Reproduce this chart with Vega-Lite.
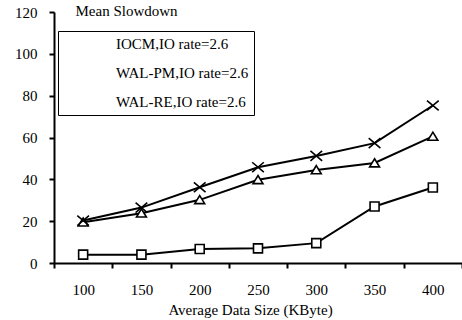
{
  "$schema": "https://vega.github.io/schema/vega-lite/v6.json",
  "autosize": {"type": "none"},
  "width": 408,
  "height": 251,
  "padding": {"left": 54, "top": 12, "right": 0, "bottom": 57},
  "background": "white",
  "config": {
    "font": "Liberation Serif",
    "view": {"stroke": null},
    "axis": {
      "domainColor": "black", "domainWidth": 2, "tickColor": "black", "tickWidth": 2, "tickSize": 5,
      "labelColor": "black", "labelFontSize": 15, "labelFont": "Liberation Serif",
      "titleColor": "black", "titleFontSize": 15, "titleFontWeight": "normal", "titleFont": "Liberation Serif",
      "grid": false
    },
    "legend": {"labelFont": "Liberation Serif"}
  },
  "data": {
    "values": [
      {"x": "100", "series": "IOCM,IO rate=2.6", "value": 19.5},
      {"x": "150", "series": "IOCM,IO rate=2.6", "value": 23.8},
      {"x": "200", "series": "IOCM,IO rate=2.6", "value": 30.2},
      {"x": "250", "series": "IOCM,IO rate=2.6", "value": 39.8},
      {"x": "300", "series": "IOCM,IO rate=2.6", "value": 44.5},
      {"x": "350", "series": "IOCM,IO rate=2.6", "value": 47.8},
      {"x": "400", "series": "IOCM,IO rate=2.6", "value": 60.5},
      {"x": "100", "series": "WAL-PM,IO rate=2.6", "value": 4.0},
      {"x": "150", "series": "WAL-PM,IO rate=2.6", "value": 4.0},
      {"x": "200", "series": "WAL-PM,IO rate=2.6", "value": 6.7},
      {"x": "250", "series": "WAL-PM,IO rate=2.6", "value": 7.0},
      {"x": "300", "series": "WAL-PM,IO rate=2.6", "value": 9.5},
      {"x": "350", "series": "WAL-PM,IO rate=2.6", "value": 27.0},
      {"x": "400", "series": "WAL-PM,IO rate=2.6", "value": 36.1},
      {"x": "100", "series": "WAL-RE,IO rate=2.6", "value": 20.3},
      {"x": "150", "series": "WAL-RE,IO rate=2.6", "value": 26.5},
      {"x": "200", "series": "WAL-RE,IO rate=2.6", "value": 36.2},
      {"x": "250", "series": "WAL-RE,IO rate=2.6", "value": 45.8},
      {"x": "300", "series": "WAL-RE,IO rate=2.6", "value": 51.2},
      {"x": "350", "series": "WAL-RE,IO rate=2.6", "value": 57.3},
      {"x": "400", "series": "WAL-RE,IO rate=2.6", "value": 75.3}
    ]
  },
  "encoding": {
    "x": {
      "field": "x", "type": "ordinal", "sort": null,
      "scale": {"type": "band", "paddingInner": 0, "paddingOuter": 0},
      "axis": {
        "title": "Average Data Size (KByte)", "labelAngle": 0, "tickBand": "extent",
        "labelPadding": 14, "titleX": 196, "titleY": 51, "titleBaseline": "alphabetic", "titleAlign": "center"
      }
    },
    "y": {
      "field": "value", "type": "quantitative",
      "scale": {"domain": [0, 120], "nice": false},
      "axis": {
        "values": [0, 20, 40, 60, 80, 100, 120], "labelPadding": 12,
        "title": "Mean Slowdown", "titleAngle": 0, "titleAlign": "left", "titleBaseline": "alphabetic",
        "titleX": 21, "titleY": 3
      }
    }
  },
  "layer": [
    {
      "mark": {"type": "line", "color": "black", "strokeWidth": 2},
      "encoding": {"detail": {"field": "series"}}
    },
    {
      "mark": {"type": "point", "filled": true, "fill": "white", "stroke": "black", "strokeWidth": 1.6, "size": 81, "opacity": 1},
      "encoding": {
        "shape": {
          "field": "series", "type": "nominal",
          "scale": {
            "domain": ["IOCM,IO rate=2.6", "WAL-PM,IO rate=2.6", "WAL-RE,IO rate=2.6"],
            "range": ["M0,-0.95L1.1,0.85L-1.1,0.85Z", "M-1,-1H1V1H-1Z", "M-1.3,-1.1L1.3,1.1M-1.3,1.1L1.3,-1.1"]
          },
          "legend": null
        }
      }
    },
    {
      "transform": [{"filter": "datum.x == 'none'"}],
      "mark": {"type": "point", "filled": true, "fill": "white", "stroke": "black", "strokeWidth": 1.6, "size": 64, "opacity": 1},
      "encoding": {
        "shape": {
          "field": "series", "type": "nominal",
          "scale": {
            "domain": ["IOCM,IO rate=2.6", "WAL-PM,IO rate=2.6", "WAL-RE,IO rate=2.6"],
            "range": ["triangle-up", "square", "cross"]
          },
          "legend": {
            "title": null, "orient": "none", "legendX": 4, "legendY": 19,
            "strokeColor": "black", "fillColor": "white", "padding": 5,
            "symbolSize": 64, "symbolStrokeWidth": 1.6, "symbolStrokeColor": "black",
            "symbolOffset": 18, "labelOffset": 20, "rowPadding": 13,
            "labelFontSize": 15, "labelColor": "black", "labelLimit": 400,
            "labelExpr": "datum.label + '\u00a0\u00a0\u00a0\u00a0\u00a0\u00a0\u00a0\u00a0\u00a0\u00a0\u00a0\u00a0'"
          }
        }
      }
    }
  ],
  "resolve": {"scale": {"shape": "independent"}, "legend": {"shape": "independent"}}
}
